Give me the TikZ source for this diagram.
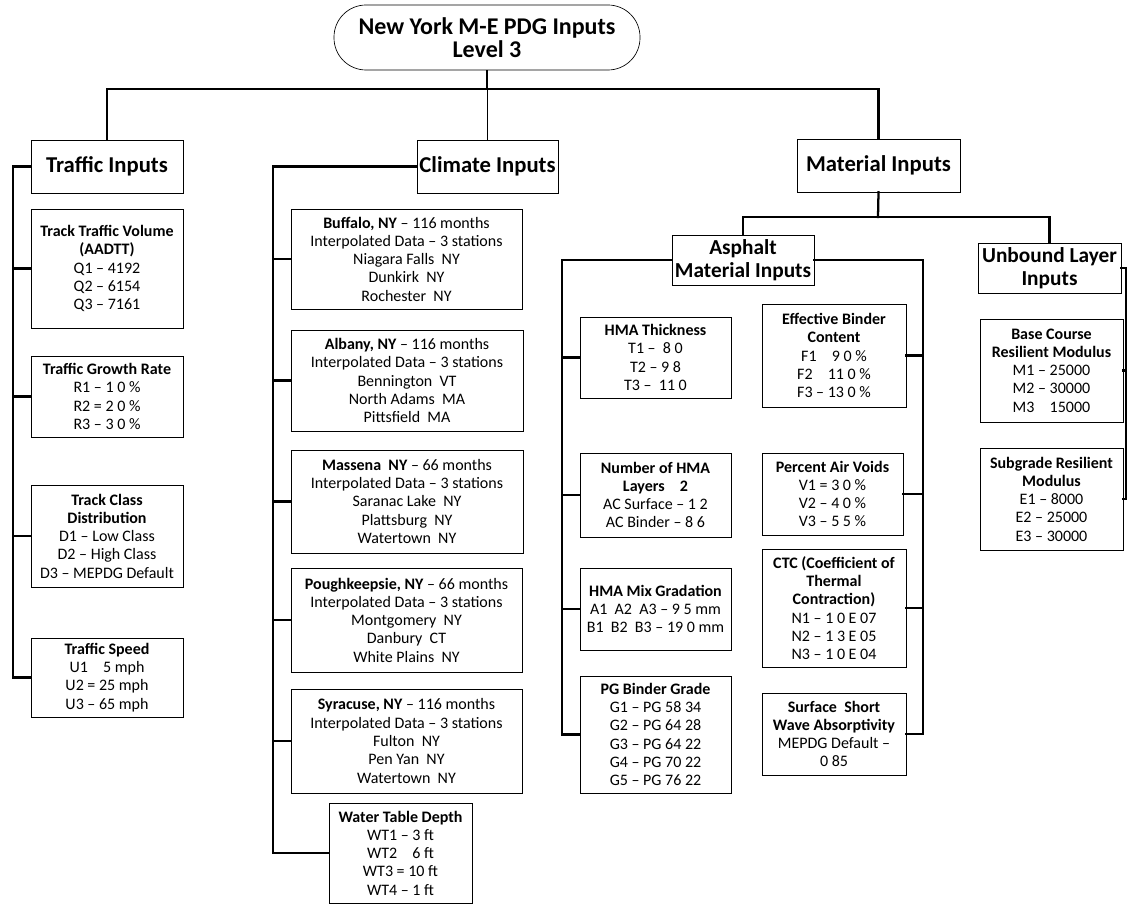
\documentclass[tikz,border=0pt]{standalone}
\usepackage{fontspec}
\setmainfont{Carlito}
\begin{document}
\begin{tikzpicture}[x=0.75pt,y=-0.75pt]
\tikzset{
 bx/.style={draw, line width=0.5pt, align=center, inner sep=1pt, font=\fontsize{12}{13.7}\selectfont},
 hd/.style={draw, line width=0.5pt, align=center, inner sep=1pt, font=\fontsize{16}{17.2}\selectfont\bfseries},
 hdbig/.style={hd, font=\fontsize{17}{17.2}\selectfont\bfseries},
 conn/.style={line width=1.7pt, line cap=rect},
 thinconn/.style={line width=0.8pt}
}
\useasboundingbox (0,0) rectangle (1128,905);

% root
\node[hd, font=\fontsize{18}{17.3}\selectfont\bfseries, rounded corners=24pt, minimum width=229.5pt, minimum height=48.75pt] (root) at (487,37.5) {New York M-E PDG Inputs\\Level 3};

% headers
\node[hdbig, minimum width=114pt, minimum height=39.75pt] (tin) at (107,166.5) {Traffic Inputs};
\node[hdbig, minimum width=105.75pt, minimum height=39.75pt] (cin) at (487.5,166.5) {Climate Inputs};
\node[hdbig, minimum width=122.25pt, minimum height=39.75pt] (min) at (878.5,165.5) {Material Inputs};
\node[hd, minimum width=106.5pt, minimum height=37.5pt] (ain) at (743,260) {Asphalt\\Material Inputs};
\node[hd, minimum width=107.25pt, minimum height=37.5pt] (uin) at (1049.5,268) {Unbound Layer\\Inputs};

% traffic
\node[bx, minimum width=114pt, minimum height=89.25pt] (tv) at (107,268.5) {\textbf{Track Traffic Volume}\\\textbf{(AADTT)}\\Q1 – 4192\\Q2 – 6154\\Q3 – 7161};
\node[bx, minimum width=114pt, minimum height=60.75pt] (tg) at (107,396.5) {\textbf{Traffic Growth Rate}\\R1 – 1 0 \%\\R2 = 2 0 \%\\R3 – 3 0 \%};
\node[bx, minimum width=114pt, minimum height=76.5pt] (tc) at (107,536) {\textbf{Track Class}\\\textbf{Distribution}\\D1 – Low Class\\D2 – High Class\\D3 – MEPDG Default};
\node[bx, minimum width=114pt, minimum height=59.25pt] (ts) at (107,677.5) {\textbf{Traffic Speed}\\U1 \phantom{–} 5 mph\\U2 = 25 mph\\U3 – 65 mph};

% climate
\node[bx, minimum width=173.25pt, minimum height=75pt] (c1) at (406.5,259) {\textbf{Buffalo, NY} – 116 months\\Interpolated Data – 3 stations\\Niagara Falls~ NY\\Dunkirk~ NY\\Rochester~ NY};
\node[bx, minimum width=174pt, minimum height=75.75pt] (c2) at (407,380.5) {\textbf{Albany, NY} – 116 months\\Interpolated Data – 3 stations\\Bennington~ VT\\North Adams~ MA\\Pittsfield~ MA};
\node[bx, minimum width=174pt, minimum height=77.25pt] (c3) at (407,501.5) {\textbf{Massena~ NY} – 66 months\\Interpolated Data – 3 stations\\Saranac Lake~ NY\\Plattsburg~ NY\\Watertown~ NY};
\node[bx, minimum width=173.25pt, minimum height=78pt] (c4) at (406.5,620) {\textbf{Poughkeepsie, NY} – 66 months\\Interpolated Data – 3 stations\\Montgomery~ NY\\Danbury~ CT\\White Plains~ NY};
\node[bx, minimum width=173.25pt, minimum height=78pt] (c5) at (406.5,741) {\textbf{Syracuse, NY} – 116 months\\Interpolated Data – 3 stations\\Fulton~ NY\\Pen Yan~ NY\\Watertown~ NY};
\node[bx, minimum width=107.25pt, minimum height=75pt] (c6) at (400.5,853) {\textbf{Water Table Depth}\\WT1 – 3 ft\\WT2 \phantom{–} 6 ft\\WT3 = 10 ft\\WT4 – 1 ft};

% asphalt
\node[bx, minimum width=113.25pt, minimum height=60.75pt] (a1) at (655.5,357.5) {\textbf{HMA Thickness}\\T1 – ~8 0\\T2 – 9 8\\T3 – ~11 0};
\node[bx, minimum width=113.25pt, minimum height=63pt] (a2) at (655.5,495) {\textbf{Number of HMA}\\\textbf{Layers \phantom{–} 2}\\AC Surface – 1 2\\AC Binder – 8 6};
\node[bx, minimum width=113.25pt, minimum height=61.5pt] (a3) at (655.5,609) {\textbf{HMA Mix Gradation}\\A1~ A2~ A3 – 9 5 mm\\B1~ B2~ B3 – 19 0 mm};
\node[bx, minimum width=113.25pt, minimum height=87.75pt] (a4) at (655.5,734.5) {\textbf{PG Binder Grade}\\G1 – PG 58 34\\G2 – PG 64 28\\G3 – PG 64 22\\G4 – PG 70 22\\G5 – PG 76 22};
\node[bx, minimum width=108pt, minimum height=77.25pt] (a5) at (834,355.5) {\textbf{Effective Binder}\\\textbf{Content}\\F1 \phantom{–} 9 0 \%\\F2 \phantom{–} 11 0 \%\\F3 – 13 0 \%};
\node[bx, minimum width=105.75pt, minimum height=61.5pt] (a6) at (832.5,494) {\textbf{Percent Air Voids}\\V1 = 3 0 \%\\V2 – 4 0 \%\\V3 – 5 5 \%};
\node[bx, minimum width=108pt, minimum height=88.5pt] (a7) at (834,608) {\textbf{CTC (Coefficient of}\\\textbf{Thermal}\\\textbf{Contraction)}\\N1 – 1 0 E 07\\N2 – 1 3 E 05\\N3 – 1 0 E 04};
\node[bx, minimum width=108pt, minimum height=61.5pt] (a8) at (834,734) {\textbf{Surface~ Short}\\\textbf{Wave Absorptivity}\\MEPDG Default –\\0 85};

% unbound
\node[bx, minimum width=107.25pt, minimum height=77.25pt] (u1) at (1051.5,370.5) {\textbf{Base Course}\\\textbf{Resilient Modulus}\\M1 – 25000\\M2 – 30000\\M3 \phantom{–} 15000};
\node[bx, minimum width=107.25pt, minimum height=76.5pt] (u2) at (1051.5,499) {\textbf{Subgrade Resilient}\\\textbf{Modulus}\\E1 – 8000\\E2 – 25000\\E3 – 30000};

% connectors
\coordinate (jroot) at (487,89);
\draw[thinconn] (root.south) -- (jroot);
\draw[conn] (tin.north) |- (jroot) -| (min.north);
\draw[thinconn] (cin.north) -- (cin.north |- jroot);

\coordinate (tx) at (13,166.5);
\draw[conn] (tin.west) -- (tx) |- (ts.west);
\draw[conn] (tv.west) -- (tv.west -| tx);
\draw[conn] (tg.west) -- (tg.west -| tx);
\draw[conn] (tc.west) -- (tc.west -| tx);

\coordinate (cx) at (273,166.5);
\draw[conn] (cin.west) -- (cx) |- (c6.west);
\draw[conn] (c1.west) -- (c1.west -| cx);
\draw[conn] (c2.west) -- (c2.west -| cx);
\draw[conn] (c3.west) -- (c3.west -| cx);
\draw[conn] (c4.west) -- (c4.west -| cx);
\draw[conn] (c5.west) -- (c5.west -| cx);

\coordinate (mj) at (878,217);
\draw[conn] (min.south) -- (mj);
\draw[conn] (ain.north) |- (mj) -| (uin.north);

\coordinate (axl) at (562,260);
\draw[conn] (ain.west) -- (axl) |- (a4.west);
\draw[conn] (a1.west) -- (a1.west -| axl);
\draw[conn] (a2.west) -- (a2.west -| axl);
\draw[conn] (a3.west) -- (a3.west -| axl);

\coordinate (axr) at (923,260);
\draw[conn] (ain.east) -- (axr) |- (a8.east);
\draw[conn] (a5.east) -- (a5.east -| axr);
\draw[conn] (a6.east) -- (a6.east -| axr);
\draw[conn] (a7.east) -- (a7.east -| axr);

\coordinate (ux) at (1126,268);
\draw[conn] (uin.east) -- (ux) |- (u2.east);
\draw[conn] (u1.east) -- (u1.east -| ux);
\end{tikzpicture}
\end{document}
